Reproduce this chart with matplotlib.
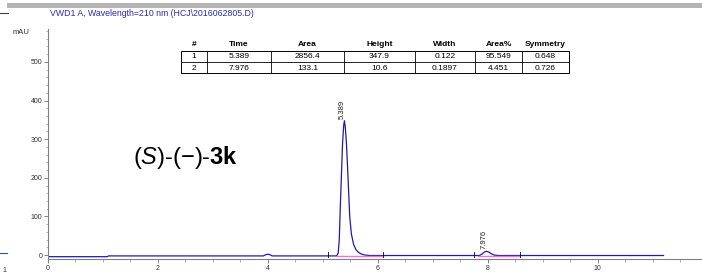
import matplotlib
matplotlib.use("Agg")
import matplotlib.pyplot as plt
from matplotlib.lines import Line2D
from matplotlib.patches import Rectangle
from matplotlib.ticker import MultipleLocator

plt.rcParams['font.family'] = ['Liberation Sans', 'DejaVu Sans']
plt.rcParams['mathtext.fontset'] = 'custom'
plt.rcParams['mathtext.rm'] = 'Liberation Sans'
plt.rcParams['mathtext.it'] = 'Liberation Sans:italic'
plt.rcParams['mathtext.bf'] = 'Liberation Sans:bold'

W, H = 702, 274

# chromatogram trace (min, mAU)
time_min = [0, 1.08, 1.10, 3.92, 3.96, 4.0, 4.04, 4.08, 5.25, 5.28, 5.30, 5.32, 5.34,
            5.36, 5.38, 5.394, 5.41, 5.43, 5.45, 5.47, 5.49, 5.52, 5.56, 5.60, 5.65,
            5.70, 5.77, 5.85, 7.85, 7.90, 7.94, 7.976, 8.02, 8.06, 8.12, 8.20, 11.2]
signal_mau = [-4, -4, -2, -2, 1, 2.5, 1, -2, -2, 5, 40, 130, 210,
              290, 335, 347.9, 330, 290, 230, 165, 100, 55, 28, 15, 7,
              3, 0, -1, -1, 3, 8, 10, 8, 4, 0, -1, -1]

# integration baselines and event marks
baseline_start = [5.25, 7.82]
baseline_end = [6.09, 8.58]
baseline_level = [-1, -1]
event_marks = [5.10, 6.09, 7.75, 8.58]

# peak labels
peak_times = [5.389, 7.976]
peak_heights = [347.9, 10.6]
peak_labels = ["5.389", "7.976"]

# results table
table_header = ["#", "Time", "Area", "Height", "Width", "Area%", "Symmetry"]
table_row1 = ["1", "5.389", "2856.4", "347.9", "0.122", "95.549", "0.648"]
table_row2 = ["2", "7.976", "133.1", "10.6", "0.1897", "4.451", "0.726"]

title = "VWD1 A, Wavelength=210 nm (HCJ\\2016062805.D)"


def fx(x):
    return x / W


def fy(y):
    return 1 - y / H


fig = plt.figure(figsize=(W / 100, H / 100), dpi=100)
ax = fig.add_axes([fx(48), fy(259), 1 - fx(48), fy(29) - fy(259)])

ax.plot(time_min, signal_mau, color="#1c1ca8", lw=0.9)
for a, b, lv in zip(baseline_start, baseline_end, baseline_level):
    ax.plot([a, b], [lv, lv], color="#ff70d0", lw=1.0)
for t in event_marks:
    ax.plot([t, t], [-4, 8], color="black", lw=0.6)

for t, h, lab in zip(peak_times, peak_heights, peak_labels):
    ax.text(t - 0.04, h + 5, lab, rotation=90, fontsize=5.5, ha="center", va="bottom",
            color="#202020")

ax.set_xlim(0, 11.9)
ax.set_ylim(-10, 585)
ax.xaxis.set_major_locator(MultipleLocator(2))
ax.xaxis.set_minor_locator(MultipleLocator(0.5))
ax.yaxis.set_major_locator(MultipleLocator(100))
ax.yaxis.set_minor_locator(MultipleLocator(20))
for s in ["top", "right"]:
    ax.spines[s].set_visible(False)
for s in ["left", "bottom"]:
    ax.spines[s].set_color("#808080")
    ax.spines[s].set_linewidth(0.8)
ax.tick_params(which="major", length=3, width=0.6, color="#707070", labelsize=5,
               labelcolor="#303030", pad=1)
ax.tick_params(which="minor", length=1.8, width=0.5, color="#909090")
ax.set_yticks([0, 100, 200, 300, 400, 500])

fig.text(fx(21), fy(32), "mAU", fontsize=5.5, ha="center", va="center", color="#303030")
fig.text(fx(50), fy(14), title, fontsize=6.3, ha="left", va="center", color="#2a2ab0")

ax.text(2.5, 252, "($\\mathit{S}$)-(\u2212)-$\\mathbf{3k}$", fontsize=17, ha="center",
        va="center", color="black")

# table
col_edges = [181, 207, 271, 344, 415, 475, 522, 569]
top, mid, bot = 51, 62, 73
fig.patches.append(Rectangle((fx(181), fy(bot)), fx(569) - fx(181), fy(top) - fy(bot),
                             transform=fig.transFigure, fill=False, lw=0.7,
                             edgecolor="black"))
fig.lines.append(Line2D([fx(181), fx(569)], [fy(mid), fy(mid)], transform=fig.transFigure,
                        color="black", lw=0.6))
for xe in col_edges[1:-1]:
    fig.lines.append(Line2D([fx(xe), fx(xe)], [fy(top), fy(bot)], transform=fig.transFigure,
                            color="black", lw=0.6))
for i in range(len(table_header)):
    xc = fx((col_edges[i] + col_edges[i + 1]) / 2)
    fig.text(xc, fy(45), table_header[i], fontsize=6, fontweight="bold", ha="center",
             va="center")
    fig.text(xc, fy(57), table_row1[i], fontsize=6, ha="center", va="center")
    fig.text(xc, fy(68), table_row2[i], fontsize=6, ha="center", va="center")

# window frame bits and the edge of the neighbouring trace
fig.patches.append(Rectangle((fx(7), fy(7.5)), 1 - fx(7), fy(3) - fy(7.5),
                             transform=fig.transFigure, color="#b4b4b4", lw=0))
fig.lines.append(Line2D([0, fx(8)], [fy(13), fy(13)], transform=fig.transFigure,
                        color="#404040", lw=0.8))
fig.lines.append(Line2D([0, fx(7)], [fy(253), fy(253)], transform=fig.transFigure,
                        color="#3050b0", lw=0.8))
fig.text(fx(4), fy(270), "1", fontsize=5, ha="center", va="center", color="#303030")

fig.savefig("out.png", dpi=100)
